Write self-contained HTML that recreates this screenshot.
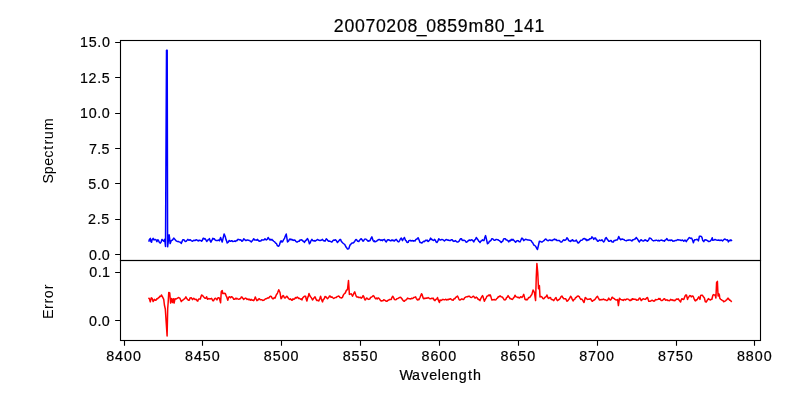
<!DOCTYPE html>
<html><head><meta charset="utf-8"><style>
html,body{margin:0;padding:0;background:#fff;width:800px;height:400px;overflow:hidden}
svg{display:block;will-change:transform}
text{font-family:"Liberation Sans",sans-serif;fill:#000;stroke:#000;stroke-width:0.2px}
</style></head><body>
<svg width="800" height="400" viewBox="0 0 800 400">
<rect width="800" height="400" fill="#fff"/>
<polyline points="149.00,241.00 149.40,239.40 150.30,238.40 150.90,241.60 151.60,242.20 152.20,239.40 153.10,238.40 154.10,240.00 155.00,239.40 155.90,239.70 156.90,241.60 157.80,239.70 158.40,240.30 159.40,242.50 160.30,243.10 161.20,241.90 161.90,239.40 162.80,240.30 163.75,241.25 164.70,239.40 165.50,246.50 166.50,50.20 167.20,50.20 167.60,246.80 169.10,234.80 169.60,238.00 170.10,243.60 170.60,242.50 171.25,240.60 172.50,240.00 173.75,238.10 175.00,239.40 176.25,240.90 177.50,241.60 178.25,241.38 179.00,241.90 179.65,242.11 180.30,242.20 181.25,243.40 181.90,241.90 182.80,239.70 183.45,239.67 184.10,240.00 185.30,241.60 185.95,241.40 186.60,240.90 187.80,239.40 188.45,240.03 189.10,240.30 190.00,239.70 191.25,240.60 192.50,241.25 193.75,240.30 195.00,240.60 195.83,239.96 196.67,239.85 197.50,240.50 198.33,240.97 199.17,240.16 200.00,240.50 200.80,240.43 201.60,241.10 202.35,240.39 203.10,238.30 203.73,238.36 204.37,238.97 205.00,238.60 205.63,239.50 206.27,240.66 206.90,241.40 207.73,239.98 208.57,239.72 209.40,238.60 210.15,240.87 210.90,242.10 211.53,240.87 212.17,239.90 212.80,238.30 213.53,239.07 214.27,238.76 215.00,239.90 215.83,240.46 216.67,240.43 217.50,240.50 218.13,240.32 218.77,240.04 219.40,240.80 220.60,237.40 221.60,240.50 222.20,242.10 224.10,233.90 225.30,236.80 225.93,239.38 226.57,240.90 227.20,243.00 227.83,242.47 228.47,241.86 229.10,240.50 229.82,240.90 230.53,241.29 231.25,240.80 232.08,240.85 232.92,241.62 233.75,241.40 234.58,241.02 235.42,241.41 236.25,240.50 237.08,240.73 237.92,239.34 238.75,239.60 240.00,239.90 240.63,239.84 241.27,240.40 241.90,241.25 242.82,240.65 243.75,238.75 244.68,239.59 245.60,240.60 246.23,240.58 246.87,239.92 247.50,240.00 248.13,240.21 248.77,240.24 249.40,240.60 250.32,241.04 251.25,241.90 252.08,240.97 252.92,239.92 253.75,238.75 254.68,239.94 255.60,240.00 256.23,240.05 256.87,240.20 257.50,239.40 258.33,240.43 259.17,241.15 260.00,241.00 260.83,240.91 261.67,239.86 262.50,240.00 263.33,240.09 264.17,239.82 265.00,238.75 266.25,240.00 267.18,239.32 268.10,237.50 268.73,238.43 269.37,239.47 270.00,240.00 270.63,239.40 271.27,240.06 271.90,239.40 272.82,240.43 273.75,241.25 274.68,241.87 275.60,243.10 276.43,243.46 277.27,245.53 278.10,246.00 278.75,246.19 279.40,245.00 280.60,241.25 281.23,240.89 281.87,242.10 282.50,241.90 283.13,240.72 283.77,239.31 284.40,238.75 285.32,236.09 286.25,234.00 287.50,241.90 288.13,241.44 288.77,240.76 289.40,239.40 290.17,238.91 290.95,239.86 291.73,239.21 292.50,240.00 293.33,240.39 294.17,239.93 295.00,240.25 295.83,241.33 296.67,242.02 297.50,241.90 298.33,241.27 299.17,241.33 300.00,240.00 300.83,239.93 301.67,239.81 302.50,240.60 303.13,241.37 303.77,241.21 304.40,242.50 305.17,241.08 305.95,240.37 306.73,239.65 307.50,238.50 308.13,239.77 308.77,241.36 309.40,243.75 310.23,242.81 311.07,240.59 311.90,239.40 312.67,240.50 313.45,240.88 314.23,240.62 315.00,241.25 315.83,240.58 316.67,240.04 317.50,239.40 318.33,240.00 319.17,240.33 320.00,240.60 320.83,240.28 321.67,239.97 322.50,239.40 323.33,240.63 324.17,240.64 325.00,241.25 326.25,238.75 327.08,239.49 327.92,240.73 328.75,241.25 329.58,241.10 330.42,241.40 331.25,241.90 332.08,241.94 332.92,240.66 333.75,240.00 334.58,240.27 335.42,239.72 336.25,240.60 337.50,242.50 338.33,241.35 339.17,240.55 340.00,239.40 340.63,239.56 341.27,241.23 341.90,241.90 342.82,243.01 343.75,243.75 344.68,244.38 345.60,246.25 346.23,247.34 346.87,248.04 347.50,249.00 348.75,248.75 350.00,245.00 350.63,244.62 351.27,243.53 351.90,243.10 352.82,243.09 353.75,242.50 354.68,241.46 355.60,239.75 356.23,239.58 356.87,240.13 357.50,241.25 358.13,241.28 358.77,241.47 359.40,240.60 360.32,239.33 361.25,238.75 362.18,239.94 363.10,241.25 363.73,240.63 364.37,239.50 365.00,239.00 365.63,239.14 366.27,239.40 366.90,240.00 368.10,241.25 368.73,240.85 369.37,240.95 370.00,240.60 370.63,239.09 371.27,237.96 371.90,236.90 373.10,240.60 373.73,241.41 374.37,240.80 375.00,241.90 375.83,241.45 376.67,241.13 377.50,240.25 378.33,239.82 379.17,239.53 380.00,239.75 380.83,240.46 381.67,239.95 382.50,240.60 383.13,239.76 383.77,239.71 384.40,239.40 385.32,240.93 386.25,241.90 387.18,240.27 388.10,239.75 388.73,239.78 389.37,240.08 390.00,240.60 390.83,240.87 391.67,240.11 392.50,240.00 393.13,240.83 393.77,240.20 394.40,241.00 395.32,239.97 396.25,239.40 397.08,240.44 397.92,241.61 398.75,241.90 399.58,240.56 400.42,238.98 401.25,238.10 402.50,240.60 403.13,239.04 403.77,238.57 404.40,237.50 405.60,240.60 406.23,240.80 406.87,242.30 407.50,242.50 408.13,242.34 408.77,240.79 409.40,240.60 410.17,240.29 410.95,241.03 411.73,240.80 412.50,240.60 413.33,241.16 414.17,240.65 415.00,241.00 415.77,239.67 416.55,239.08 417.33,238.97 418.10,237.75 418.73,239.01 419.37,240.70 420.00,242.50 420.63,242.58 421.27,242.79 421.90,243.10 422.82,242.05 423.75,241.25 424.58,241.62 425.42,240.34 426.25,240.60 427.08,240.04 427.92,241.49 428.75,241.00 429.68,240.08 430.60,238.10 431.23,239.42 431.87,239.27 432.50,240.00 433.13,240.43 433.77,240.20 434.40,239.40 435.23,240.04 436.07,241.81 436.90,242.50 437.82,241.10 438.75,238.75 440.00,240.00 440.63,240.03 441.27,239.63 441.90,239.40 442.73,239.64 443.57,240.24 444.40,241.00 445.23,240.20 446.07,239.56 446.90,239.75 447.73,240.16 448.57,240.02 449.40,240.60 450.32,240.61 451.25,239.75 452.18,239.74 453.10,241.00 453.93,241.43 454.77,241.00 455.60,240.60 456.43,241.63 457.27,242.02 458.10,241.90 458.93,241.41 459.77,239.91 460.60,238.75 461.43,238.69 462.27,240.33 463.10,240.60 463.73,240.14 464.37,240.32 465.00,240.60 466.25,242.25 467.04,241.92 467.82,241.16 468.61,240.44 469.40,240.00 470.23,240.53 471.07,239.99 471.90,239.75 472.82,240.60 473.75,241.90 474.58,240.09 475.42,239.47 476.25,237.50 477.18,238.72 478.10,240.00 478.73,241.23 479.37,241.46 480.00,242.50 480.83,241.16 481.67,240.72 482.50,239.75 483.25,240.62 484.00,240.60 484.80,237.64 485.60,235.60 487.50,243.75 488.13,243.33 488.77,242.67 489.40,241.25 490.17,241.05 490.95,240.45 491.73,238.69 492.50,238.75 493.33,239.43 494.17,240.26 495.00,240.25 495.83,239.45 496.67,239.60 497.50,239.75 498.13,239.71 498.77,240.35 499.40,240.60 500.32,241.44 501.25,242.50 502.04,241.52 502.82,241.01 503.61,238.99 504.40,238.75 505.32,238.75 506.25,240.00 507.08,240.11 507.92,240.74 508.75,241.90 509.58,240.46 510.42,240.90 511.25,239.40 512.08,240.18 512.92,239.39 513.75,240.25 514.67,241.25 515.60,242.25 516.23,241.44 516.87,240.89 517.50,240.60 518.33,240.83 519.17,241.67 520.00,241.90 520.63,240.75 521.27,239.17 521.90,238.10 522.83,238.92 523.75,240.60 524.58,239.96 525.42,239.27 526.25,239.40 527.08,239.68 527.92,240.10 528.75,240.00 530.00,240.25 530.63,240.63 531.27,240.76 531.90,241.90 532.83,243.00 533.75,245.00 534.67,245.45 535.60,246.25 536.23,247.45 536.87,248.75 537.50,249.40 539.40,241.25 540.33,241.41 541.25,241.90 542.17,242.00 543.10,241.25 543.93,240.67 544.77,239.65 545.60,239.00 546.23,239.35 546.87,240.06 547.50,240.60 548.33,240.68 549.17,240.09 550.00,240.00 550.83,240.47 551.67,240.35 552.50,240.60 553.13,239.71 553.77,239.58 554.40,239.00 555.23,239.81 556.07,239.47 556.90,240.60 557.73,240.49 558.57,240.50 559.40,240.60 560.23,241.56 561.07,242.08 561.90,241.90 562.83,240.65 563.75,239.75 564.67,240.43 565.60,240.00 566.25,239.28 566.90,237.75 567.83,238.84 568.75,240.60 569.67,241.00 570.60,241.50 571.23,240.39 571.87,240.77 572.50,239.75 573.13,240.39 573.77,241.13 574.40,241.00 575.33,240.91 576.25,240.00 577.17,241.78 578.10,243.10 578.73,242.81 579.37,241.96 580.00,241.25 580.83,240.19 581.67,240.37 582.50,239.75 583.33,238.72 584.17,238.58 585.00,238.75 585.63,239.75 586.27,239.35 586.90,240.60 587.83,239.73 588.75,240.00 589.67,238.81 590.60,238.75 591.25,238.36 591.90,236.90 592.83,237.70 593.75,239.40 594.67,238.08 595.60,238.10 596.23,239.63 596.87,239.67 597.50,241.25 598.13,241.31 598.77,240.66 599.40,240.00 600.23,240.39 601.07,240.47 601.90,239.75 602.83,240.94 603.75,241.90 604.58,240.85 605.42,238.32 606.25,237.50 607.08,239.12 607.92,240.02 608.75,241.25 609.67,241.23 610.60,240.60 611.23,240.48 611.87,241.82 612.50,241.90 613.33,242.08 614.17,240.42 615.00,240.60 615.83,240.07 616.67,240.12 617.50,239.75 618.75,236.50 619.67,238.58 620.60,239.75 621.43,239.27 622.27,239.07 623.10,239.40 623.93,239.45 624.77,240.36 625.60,240.60 626.43,240.84 627.27,240.22 628.10,240.25 628.73,239.98 629.37,239.94 630.00,240.00 630.63,240.12 631.27,240.55 631.90,241.00 632.83,239.79 633.75,239.75 634.58,239.00 635.42,238.91 636.25,237.50 637.17,238.63 638.10,240.00 638.75,241.30 639.40,241.90 640.33,240.35 641.25,239.75 642.17,240.64 643.10,241.00 643.73,240.94 644.37,240.41 645.00,239.75 645.83,240.27 646.67,240.73 647.50,241.25 648.13,240.40 648.77,239.71 649.40,238.10 650.23,238.16 651.07,238.63 651.90,239.75 652.73,240.38 653.57,240.90 654.40,240.60 655.23,240.51 656.07,240.29 656.90,240.25 657.73,240.81 658.57,240.31 659.40,241.00 660.23,240.42 661.07,240.08 661.90,240.25 662.73,240.70 663.57,240.66 664.40,241.25 665.23,239.96 666.07,239.68 666.90,238.50 667.83,240.18 668.75,240.60 669.58,240.11 670.42,240.49 671.25,240.00 672.08,240.21 672.92,241.16 673.75,241.00 674.58,240.99 675.42,240.41 676.25,240.60 677.08,240.00 677.92,239.53 678.75,240.00 680.00,240.00 681.25,240.60 682.50,240.00 683.75,241.25 685.00,240.00 686.25,241.60 687.50,239.70 688.13,238.94 688.77,238.07 689.40,237.50 690.60,238.40 691.60,238.10 692.50,240.00 693.40,242.80 694.05,240.79 694.70,239.70 695.90,239.70 696.70,239.35 697.50,239.40 698.40,240.90 699.40,236.25 700.60,236.25 701.25,236.48 701.90,237.20 702.80,240.60 703.75,241.60 705.00,239.70 706.25,240.00 707.50,240.60 708.75,241.60 710.00,241.25 711.25,240.00 712.20,237.80 712.80,240.30 714.00,240.00 715.00,239.40 716.25,240.00 717.50,240.30 718.75,240.00 720.00,240.60 721.25,240.00 722.50,240.90 723.75,239.70 725.00,239.00 726.25,240.00 727.50,239.70 728.40,241.90 729.40,240.30 730.10,240.72 730.80,239.87 731.50,240.40" fill="none" stroke="#0000ff" stroke-width="1.5" stroke-linejoin="round" stroke-linecap="square"/>
<polyline points="149.00,298.40 149.40,298.75 150.30,301.90 151.25,297.80 152.20,298.40 153.10,301.60 153.75,300.67 154.40,299.40 155.60,300.30 156.25,299.86 156.90,298.75 157.65,298.69 158.40,297.80 159.05,297.64 159.70,296.25 160.60,296.60 161.40,295.00 162.50,296.90 163.75,299.40 164.40,305.00 165.30,309.00 167.10,336.00 167.70,308.50 168.20,302.00 168.75,292.50 169.75,293.00 170.60,303.10 171.60,298.40 172.50,302.50 173.40,298.75 174.10,303.10 175.00,298.75 176.25,299.00 177.50,298.10 178.75,297.50 180.00,298.40 181.25,301.60 182.50,300.30 183.75,299.40 185.00,298.40 185.90,296.90 186.90,298.75 188.10,300.00 188.75,300.34 189.40,300.00 190.00,298.00 191.25,297.70 192.50,299.60 193.75,298.30 195.00,299.60 196.25,299.25 197.03,300.77 197.80,301.10 198.45,299.34 199.10,298.90 200.30,298.90 200.95,296.85 201.60,294.90 202.50,295.50 203.75,297.00 205.00,298.30 205.80,298.15 206.60,296.75 207.50,299.25 208.75,298.60 210.00,298.90 210.80,298.81 211.60,298.30 212.80,300.80 213.45,300.76 214.10,299.60 214.85,298.41 215.60,298.30 216.25,299.06 216.90,299.90 218.10,297.70 218.75,297.65 219.40,298.30 220.60,302.80 221.25,291.75 222.20,290.50 222.80,293.60 223.45,293.51 224.10,293.30 225.30,293.60 226.10,295.60 226.90,297.40 227.80,300.20 228.75,297.10 229.68,296.72 230.60,297.70 231.25,296.83 231.90,296.75 232.82,297.69 233.75,299.25 234.68,299.36 235.60,298.30 236.23,298.87 236.87,298.22 237.50,298.90 238.75,299.25 240.00,298.75 240.63,298.55 241.27,297.01 241.90,296.90 242.82,298.31 243.75,299.40 244.58,298.58 245.42,298.10 246.25,298.50 247.08,299.44 247.92,298.93 248.75,299.75 249.58,299.24 250.42,300.19 251.25,299.40 252.08,300.32 252.92,299.91 253.75,300.60 254.50,299.40 255.25,296.90 256.07,298.80 256.90,300.60 257.73,300.23 258.57,298.95 259.40,298.75 260.23,299.70 261.07,299.68 261.90,299.75 262.73,300.40 263.57,300.30 264.40,299.75 265.23,299.05 266.07,298.72 266.90,298.50 267.82,297.83 268.75,298.10 269.68,296.68 270.60,296.25 271.23,296.47 271.87,297.64 272.50,298.75 273.33,298.68 274.17,297.62 275.00,298.10 276.25,295.00 277.50,293.10 278.75,289.75 280.00,292.50 281.00,298.75 281.70,297.95 282.40,296.42 283.10,295.60 283.73,296.17 284.37,297.71 285.00,298.10 285.63,297.46 286.27,296.61 286.90,296.25 287.82,297.47 288.75,298.75 289.58,299.37 290.42,298.80 291.25,299.75 292.08,300.30 292.92,298.85 293.75,299.40 294.68,298.80 295.60,297.50 296.43,298.07 297.27,296.99 298.10,297.75 298.73,298.49 299.37,298.23 300.00,298.75 300.63,299.28 301.27,298.90 301.90,300.00 302.82,297.82 303.75,296.90 304.68,296.13 305.60,296.25 306.25,299.26 306.90,301.00 307.60,298.08 308.30,296.36 309.00,293.50 309.75,295.43 310.50,296.79 311.25,297.50 312.50,300.00 313.33,298.75 314.17,297.73 315.00,296.90 315.63,298.17 316.27,299.75 316.90,300.60 317.82,300.25 318.75,301.00 319.68,298.97 320.60,296.25 321.23,298.55 321.87,300.52 322.50,301.90 323.33,299.45 324.17,298.92 325.00,296.50 325.83,296.68 326.67,297.78 327.50,298.75 328.13,297.99 328.77,297.50 329.40,296.00 330.23,296.08 331.07,297.19 331.90,296.90 332.82,297.76 333.75,298.50 334.58,297.90 335.42,297.58 336.25,297.50 337.18,296.42 338.10,296.25 338.73,296.08 339.37,296.59 340.00,297.50 340.83,297.68 341.67,298.03 342.50,297.25 343.13,295.61 343.77,294.28 344.40,293.75 345.32,292.86 346.25,290.60 347.50,289.40 348.50,280.60 349.40,294.40 350.32,294.12 351.25,293.75 352.50,296.25 353.25,294.67 354.00,292.98 354.75,291.90 355.50,294.21 356.25,296.25 357.08,297.12 357.92,297.02 358.75,297.50 359.58,297.59 360.42,297.28 361.25,298.10 362.18,297.43 363.10,295.60 363.73,296.41 364.37,298.52 365.00,300.00 365.63,299.84 366.27,298.22 366.90,298.10 367.82,299.07 368.75,299.40 369.68,299.08 370.60,297.50 371.43,297.05 372.27,296.64 373.10,295.60 373.93,296.10 374.77,297.61 375.60,298.75 376.39,298.10 377.18,298.91 377.96,297.98 378.75,298.10 379.68,299.28 380.60,300.60 381.39,301.09 382.18,300.67 382.96,300.63 383.75,299.75 384.58,300.18 385.42,300.73 386.25,301.25 387.08,301.15 387.92,300.39 388.75,300.00 389.58,299.51 390.42,299.47 391.25,299.40 392.00,297.33 392.75,296.25 393.57,297.65 394.40,299.40 395.23,299.87 396.07,299.61 396.90,298.75 397.67,298.62 398.45,298.12 399.23,297.59 400.00,297.50 400.63,297.34 401.27,298.01 401.90,298.75 402.73,299.98 403.57,300.93 404.40,301.25 405.17,300.27 405.95,300.08 406.73,299.27 407.50,298.10 408.33,298.59 409.17,298.76 410.00,298.75 410.77,298.95 411.55,298.23 412.33,298.55 413.10,298.10 413.93,297.39 414.77,297.28 415.60,296.90 416.23,298.31 416.87,299.23 417.50,300.00 418.13,299.29 418.77,299.79 419.40,298.75 420.10,297.29 420.80,295.53 421.50,293.75 422.17,294.73 422.83,297.15 423.50,298.75 424.19,298.24 424.88,298.67 425.56,298.21 426.25,298.10 427.18,298.24 428.10,297.50 428.93,298.12 429.77,298.75 430.60,298.75 431.43,298.32 432.27,298.52 433.10,298.10 433.73,299.27 434.37,300.23 435.00,300.60 435.83,299.36 436.67,299.01 437.50,297.50 438.13,299.68 438.77,301.10 439.40,302.50 440.00,300.00 440.83,300.47 441.67,300.24 442.50,299.40 443.33,299.54 444.17,299.67 445.00,299.75 445.83,299.17 446.67,299.99 447.50,299.40 448.27,299.85 449.05,299.04 449.83,299.18 450.60,298.75 451.43,299.56 452.27,300.07 453.10,300.25 453.93,298.87 454.77,298.81 455.60,297.50 456.23,297.11 456.87,296.73 457.50,296.00 458.13,297.22 458.77,298.84 459.40,300.00 460.23,299.97 461.07,299.36 461.90,298.75 462.82,299.38 463.75,299.40 464.58,297.91 465.42,297.26 466.25,296.90 467.08,296.60 467.92,296.68 468.75,296.25 469.58,296.27 470.42,297.34 471.25,297.50 472.18,297.06 473.10,296.25 473.73,296.23 474.37,297.44 475.00,298.10 475.63,297.52 476.27,297.08 476.90,297.50 478.10,299.40 478.73,299.29 479.37,299.94 480.00,300.60 480.83,298.49 481.67,296.84 482.50,295.60 483.13,296.83 483.77,299.32 484.40,301.25 485.23,299.42 486.07,298.07 486.90,296.25 487.67,296.00 488.45,295.13 489.23,295.69 490.00,294.75 490.63,295.80 491.27,298.12 491.90,300.00 492.67,299.69 493.45,299.87 494.23,299.46 495.00,300.00 495.83,299.83 496.67,298.56 497.50,298.10 498.13,296.83 498.77,297.03 499.40,296.25 500.23,295.90 501.07,296.75 501.90,296.90 502.67,297.45 503.45,298.56 504.23,299.87 505.00,300.00 505.77,299.35 506.55,297.69 507.33,297.14 508.10,295.60 508.73,296.85 509.37,297.52 510.00,298.75 510.83,298.47 511.67,299.32 512.50,299.40 513.33,298.11 514.17,297.27 515.00,295.25 515.83,296.66 516.67,296.90 517.50,297.50 518.33,297.29 519.17,298.05 520.00,297.50 520.63,296.80 521.27,296.95 521.90,297.50 522.83,296.04 523.75,294.40 525.00,299.40 525.63,299.76 526.27,299.30 526.90,300.00 527.83,298.93 528.75,297.50 529.67,297.42 530.60,296.25 531.25,295.15 531.90,294.40 533.10,290.00 533.75,291.15 534.40,292.50 535.60,300.60 536.25,277.50 536.90,263.60 537.75,272.50 538.50,288.75 539.40,285.60 540.00,296.90 540.63,296.52 541.27,296.61 541.90,296.90 542.83,298.49 543.75,298.75 544.67,297.66 545.60,296.90 546.25,296.60 546.90,295.00 548.10,298.10 548.73,298.48 549.37,297.83 550.00,297.50 550.63,297.80 551.27,299.44 551.90,299.40 552.83,299.99 553.75,300.60 554.50,299.45 555.25,298.28 556.00,297.50 556.75,299.73 557.50,300.60 558.13,300.19 558.77,299.50 559.40,299.40 560.23,298.23 561.07,296.60 561.90,296.00 562.83,297.55 563.75,298.75 564.67,298.67 565.60,298.75 566.25,299.71 566.90,301.25 567.83,300.72 568.75,299.40 569.67,298.28 570.60,296.25 571.43,297.15 572.27,299.46 573.10,301.00 573.93,299.52 574.77,299.28 575.60,297.50 576.43,297.39 577.27,296.14 578.10,296.00 578.73,296.37 579.37,296.92 580.00,298.10 580.83,299.42 581.67,299.08 582.50,300.00 583.25,301.40 584.00,302.50 585.25,297.50 586.00,298.10 586.75,298.97 587.50,299.40 588.33,299.33 589.17,299.31 590.00,298.75 590.83,299.05 591.67,300.78 592.50,301.25 593.33,300.35 594.17,300.06 595.00,299.40 595.83,298.12 596.67,297.02 597.50,296.25 598.13,297.54 598.77,298.70 599.40,300.00 600.23,299.61 601.07,299.94 601.90,299.40 602.73,299.64 603.57,298.98 604.40,299.75 605.23,299.69 606.07,300.25 606.90,300.60 607.83,299.93 608.75,298.10 609.67,299.59 610.60,300.00 611.23,299.15 611.87,297.49 612.50,297.25 613.33,298.36 614.17,298.58 615.00,299.40 615.63,299.71 616.27,300.09 616.90,300.00 617.60,299.50 618.40,305.60 619.50,298.20 620.50,299.30 621.17,299.72 621.83,299.74 622.50,300.00 623.25,300.46 624.00,299.60 624.75,299.49 625.50,300.01 626.25,299.40 627.08,298.98 627.92,299.12 628.75,299.40 629.67,300.46 630.60,300.60 631.23,299.38 631.87,299.84 632.50,298.75 633.33,299.24 634.17,299.09 635.00,299.40 635.83,299.30 636.67,300.19 637.50,300.00 638.33,299.94 639.17,298.23 640.00,298.10 641.25,300.60 642.17,299.64 643.10,298.75 643.93,299.04 644.77,299.18 645.60,299.40 646.23,298.53 646.87,297.65 647.50,297.50 648.75,301.25 649.58,301.15 650.42,301.25 651.25,300.60 652.08,300.21 652.92,300.66 653.75,301.25 654.67,300.77 655.60,299.40 656.43,299.81 657.27,299.63 658.10,299.40 658.73,298.44 659.37,299.11 660.00,298.50 660.63,299.87 661.27,300.60 661.90,300.60 662.83,300.08 663.75,299.00 664.58,298.70 665.42,300.15 666.25,300.00 667.08,299.81 667.92,300.60 668.75,300.60 669.67,300.63 670.60,299.40 671.43,300.10 672.27,299.69 673.10,300.60 673.93,300.11 674.77,300.79 675.60,300.00 676.43,299.09 677.27,299.32 678.10,298.75 678.75,299.55 679.40,300.60 680.60,301.90 681.25,299.85 681.90,298.75 682.83,299.25 683.75,299.40 685.00,296.25 685.75,294.99 686.50,295.00 687.50,299.40 688.25,297.58 689.00,296.70 689.75,295.60 690.50,295.65 691.25,296.90 692.17,295.96 693.10,296.25 693.73,297.81 694.37,299.49 695.00,300.60 695.63,300.93 696.27,299.69 696.90,300.00 697.83,298.35 698.75,296.90 700.00,299.40 700.60,295.50 701.50,295.20 702.50,295.30 703.40,296.80 704.40,298.00 705.30,301.75 706.25,302.00 707.50,299.90 708.40,298.60 709.40,299.60 710.60,299.90 711.25,299.29 711.90,299.20 712.80,295.50 713.40,294.60 714.05,294.89 714.70,294.90 715.30,295.50 715.90,298.00 716.60,282.40 717.40,281.40 717.80,290.50 718.10,296.00 718.75,293.60 719.40,295.00 719.70,298.00 720.60,299.25 721.25,299.71 721.90,300.20 723.10,300.80 723.75,301.71 724.40,301.40 725.60,300.80 726.25,300.02 726.90,299.60 727.65,298.33 728.40,298.30 729.05,299.53 729.70,300.20 730.48,300.31 731.25,301.40" fill="none" stroke="#ff0000" stroke-width="1.5" stroke-linejoin="round" stroke-linecap="square"/>
<rect x="120.5" y="40.5" width="640" height="220" fill="none" stroke="#000" stroke-width="1.11"/>
<rect x="120.5" y="260.5" width="640" height="80" fill="none" stroke="#000" stroke-width="1.11"/>
<path d="M115.14 42.5H120M115.14 77.5H120M115.14 113.5H120M115.14 148.5H120M115.14 183.5H120M115.14 219.5H120M115.14 254.5H120M115.14 272.5H120M115.14 320.5H120M124.5 340.5V345.86M202.5 340.5V345.86M281.5 340.5V345.86M360.5 340.5V345.86M439.5 340.5V345.86M518.5 340.5V345.86M597.5 340.5V345.86M676.5 340.5V345.86M754.5 340.5V345.86" stroke="#000" stroke-width="1.11" fill="none"/>
<text x="333.71 344.43 354.93 365.40 375.93 386.22 396.94 407.44 416.85 426.19 436.69 447.13 457.64 468.59 484.28 494.78 504.19 513.44 524.04 534.44" y="32.00" font-size="17.7">20070208_0859m80_141</text>
<text x="80.09 88.80 97.35 101.88" y="47.00" font-size="14.3">15.0</text>
<text x="80.07 88.59 97.21 101.64" y="83.00" font-size="14.3">12.5</text>
<text x="80.07 88.77 97.22 101.70" y="118.00" font-size="14.3">10.0</text>
<text x="88.99 97.24 101.45" y="154.00" font-size="14.3">7.5</text>
<text x="88.15 96.68 101.19" y="189.00" font-size="14.3">5.0</text>
<text x="88.10 96.80 101.30" y="224.00" font-size="14.3">2.5</text>
<text x="89.10 97.46 101.85" y="260.00" font-size="14.3">0.0</text>
<text x="89.22 97.63 102.00" y="277.00" font-size="14.3">0.1</text>
<text x="89.10 97.46 101.85" y="326.00" font-size="14.3">0.0</text>
<text x="106.13 115.05 123.97 132.89" y="360.70" font-size="14.3">8400</text>
<text x="184.98 193.90 202.76 211.74" y="360.70" font-size="14.3">8450</text>
<text x="263.83 272.70 281.67 290.59" y="360.70" font-size="14.3">8500</text>
<text x="342.68 351.55 360.46 369.44" y="360.70" font-size="14.3">8550</text>
<text x="421.53 430.45 439.37 448.29" y="360.70" font-size="14.3">8600</text>
<text x="500.38 509.30 518.16 527.14" y="360.70" font-size="14.3">8650</text>
<text x="579.23 588.12 597.07 605.99" y="360.70" font-size="14.3">8700</text>
<text x="658.08 666.97 675.86 684.84" y="360.70" font-size="14.3">8750</text>
<text x="736.93 745.85 754.77 763.69" y="360.70" font-size="14.3">8800</text>
<text x="399.52 411.97 421.20 429.16 437.68 441.49 450.12 458.76 467.89 473.03" y="380.00" font-size="14.3">Wavelength</text>
<text style="stroke:none" transform="translate(53.00,182.20) rotate(-90)" x="-1.31 8.04 16.39 24.45 32.50 37.80 42.95 51.86" y="0" font-size="14.3">Spectrum</text>
<text style="stroke:none" transform="translate(52.80,317.20) rotate(-90)" x="-1.75 8.28 13.80 18.86 27.91" y="0" font-size="14.3">Error</text>
</svg>
</body></html>
